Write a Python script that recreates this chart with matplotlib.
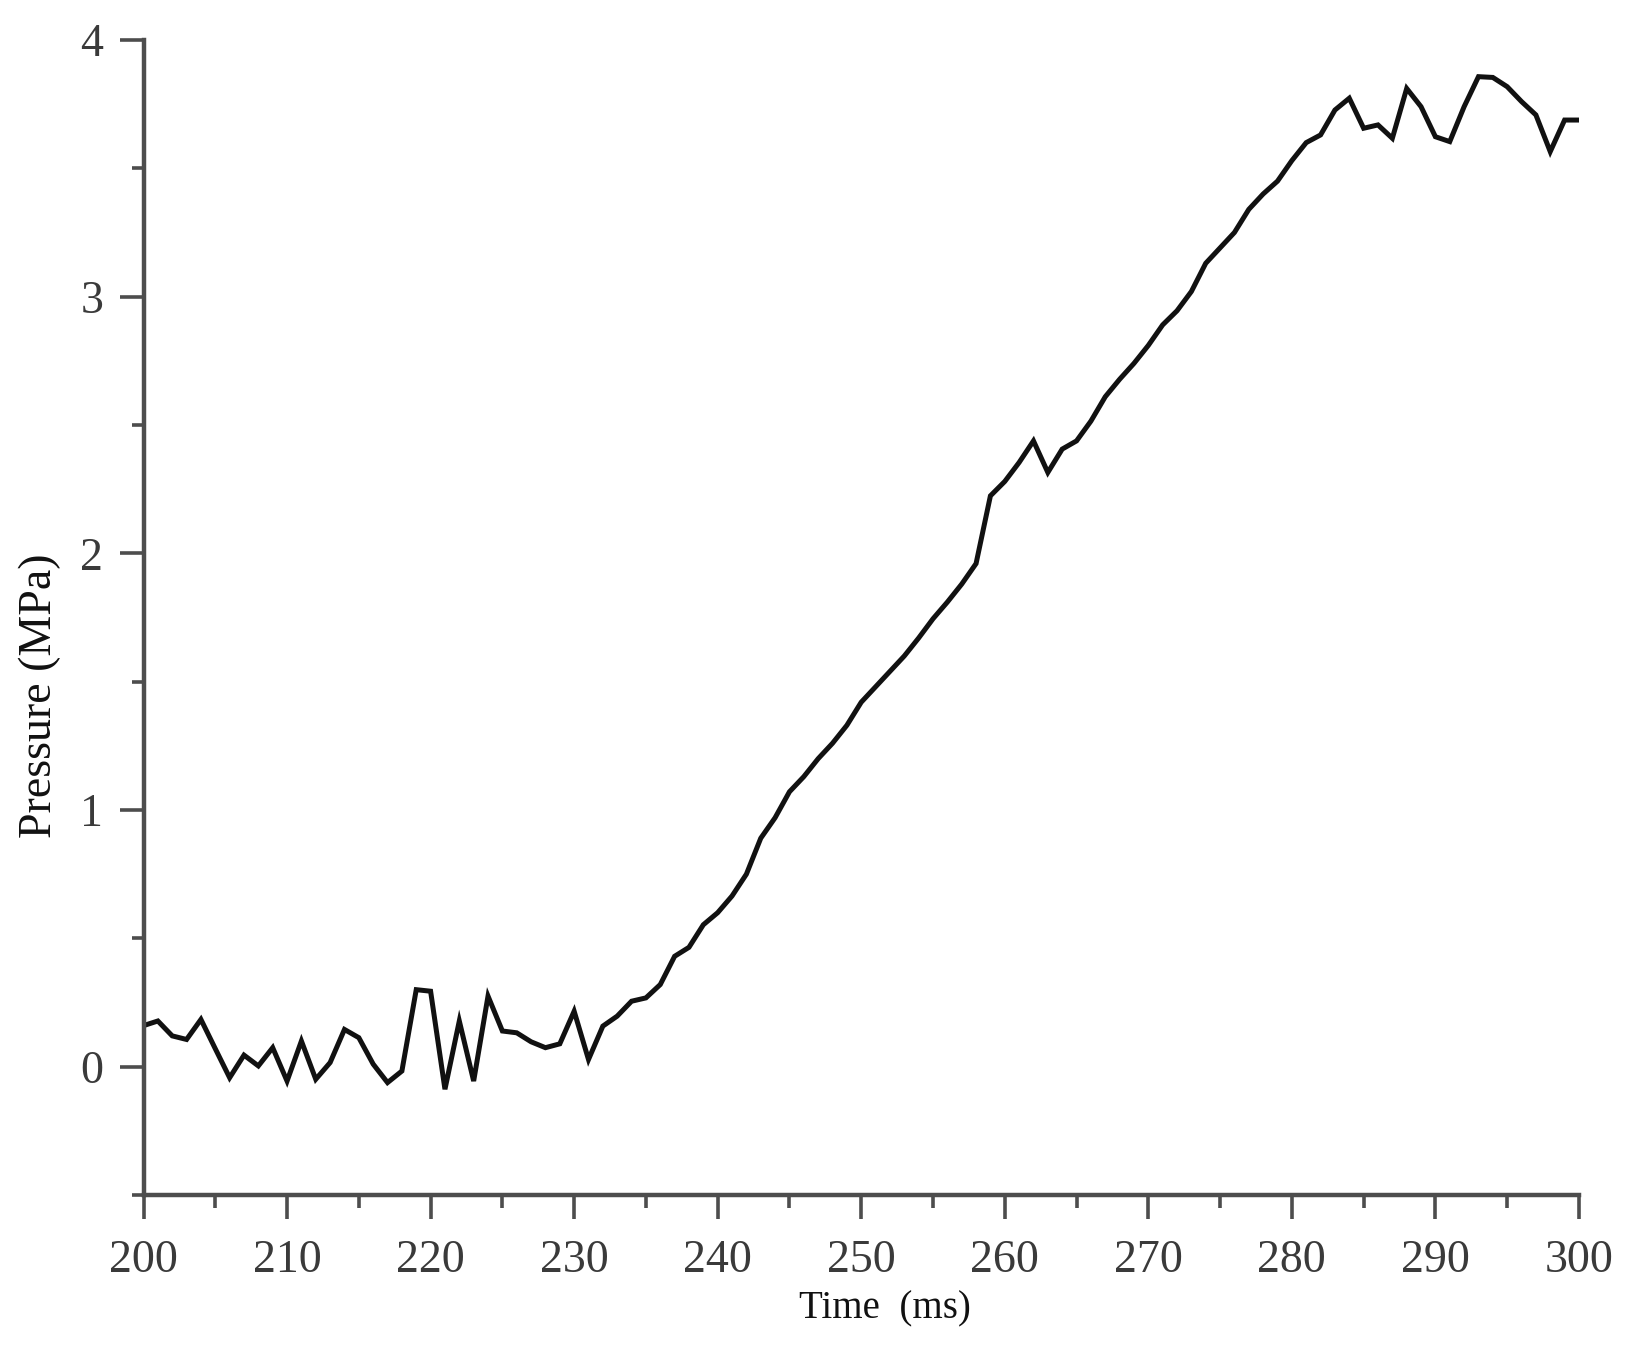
import numpy as np
import matplotlib
matplotlib.use("Agg")
from matplotlib import pyplot as plt
from matplotlib.ticker import MultipleLocator

# time (ms), one sample per ms
time_ms = np.arange(200, 301)
# pressure (MPa)
pressure = [
    0.16, 0.178, 0.12, 0.106, 0.184, 0.07, -0.043, 0.045, 0.003, 0.074,
    -0.056, 0.10, -0.049, 0.016, 0.145, 0.113, 0.01, -0.062, -0.017, 0.30,
    0.294, -0.088, 0.178, -0.056, 0.275, 0.139, 0.132, 0.097, 0.074, 0.089,
    0.216, 0.028, 0.158, 0.197, 0.255, 0.268, 0.32, 0.43, 0.465, 0.553,
    0.60, 0.665, 0.75, 0.89, 0.97, 1.071, 1.13, 1.20, 1.26, 1.33,
    1.42, 1.48, 1.54, 1.60, 1.67, 1.745, 1.81, 1.88, 1.96, 2.224,
    2.28, 2.354, 2.438, 2.315, 2.406, 2.438, 2.515, 2.61, 2.678, 2.74,
    2.81, 2.89, 2.945, 3.02, 3.13, 3.19, 3.25, 3.34, 3.40, 3.45,
    3.53, 3.60, 3.63, 3.727, 3.773, 3.656, 3.669, 3.617, 3.811, 3.74,
    3.623, 3.604, 3.74, 3.857, 3.854, 3.818, 3.76, 3.708, 3.565, 3.688,
    3.688,
]
xticks = [200, 210, 220, 230, 240, 250, 260, 270, 280, 290, 300]
yticks = [0, 1, 2, 3, 4]

plt.rcParams["font.family"] = ["Liberation Serif", "DejaVu Serif"]

fig = plt.figure(figsize=(16.42, 13.5), dpi=100)
ax = fig.add_axes([0.0874, 0.1148, 0.8742, 0.8556])

ax.plot(time_ms, pressure, color="#111111", linewidth=3.6, solid_joinstyle="miter")

ax.set_xlim(200, 300)
ax.set_ylim(-0.5, 4)
ax.set_xticks(xticks)
ax.set_yticks(yticks)
ax.xaxis.set_minor_locator(MultipleLocator(5))
ax.yaxis.set_minor_locator(MultipleLocator(0.5))

spine_col = "#4d4d4d"
for side in ["top", "right"]:
    ax.spines[side].set_visible(False)
for side in ["left", "bottom"]:
    ax.spines[side].set_color(spine_col)
    ax.spines[side].set_linewidth(3.2)

ax.tick_params(which="major", direction="out", length=17, width=2.6,
               color=spine_col, labelsize=33, labelcolor="#3a3a3a")
ax.tick_params(which="minor", direction="out", length=9, width=2.6, color=spine_col)
ax.tick_params(axis="x", which="major", pad=15)
ax.tick_params(axis="y", which="major", pad=12)

ax.set_xlabel("Time  (ms)", fontsize=28, color="#111111", va="center")
ax.xaxis.set_label_coords(0.5165, -0.0987)
ax.set_ylabel("Pressure (MPa)", fontsize=33, color="#111111", va="center")
ax.yaxis.set_label_coords(-0.072, 0.432)

fig.savefig("out.png", dpi=100, facecolor="white")
